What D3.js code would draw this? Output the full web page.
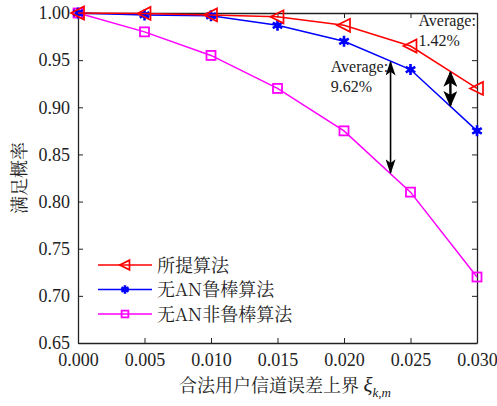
<!DOCTYPE html>
<html>
<head>
<meta charset="utf-8">
<script src="https://cdn.jsdelivr.net/npm/d3@7"></script>
<style>
  body { margin: 0; background: #fff; }
  text { font-family: "Liberation Serif", "Times New Roman", serif; fill: #222; }
  .cjk { font-family: "Noto Serif CJK SC", "Noto Sans CJK SC", serif; }
</style>
</head>
<body>
<div id="chart"></div>
<script>
(function(){

  var xValues = [0.000, 0.005, 0.010, 0.015, 0.020, 0.025, 0.030];
  var proposed = [1.000, 0.9995, 0.998, 0.996, 0.987, 0.965, 0.920];
  var robustNoAN = [1.000, 0.998, 0.997, 0.987, 0.970, 0.940, 0.875];
  var nonRobustNoAN = [1.000, 0.980, 0.955, 0.920, 0.875, 0.810, 0.720];
  var seriesNames = ["所提算法", "无AN鲁棒算法", "无AN非鲁棒算法"];
  var xTicks = [0, 0.005, 0.01, 0.015, 0.02, 0.025, 0.03];
  var yTicks = [0.65, 0.70, 0.75, 0.80, 0.85, 0.90, 0.95, 1.00];

  var width = 497, height = 406;
  var margin = {top: 13, right: 20, bottom: 63, left: 78};

  var x = d3.scaleLinear().domain([0, 0.03]).range([margin.left, width - margin.right]);
  var y = d3.scaleLinear().domain([0.65, 1.0]).range([height - margin.bottom, margin.top]);

  var svg = d3.select("#chart").append("svg")
    .attr("width", width).attr("height", height);

  var defs = svg.append("defs");
  [["a1", 10, 15], ["a2", 14, 16]].forEach(function(m){
    defs.append("marker").attr("id", m[0])
      .attr("viewBox", "0 0 10 10").attr("refX", 9).attr("refY", 5)
      .attr("markerWidth", m[2]).attr("markerHeight", m[1])
      .attr("markerUnits", "userSpaceOnUse")
      .attr("orient", "auto-start-reverse")
      .attr("preserveAspectRatio", "none")
      .append("path").attr("d", "M0,0 L10,5 L0,10 L2.5,5 Z").attr("fill", "#000");
  });

  var plotH = height - margin.bottom - margin.top;

  var gx = svg.append("g").attr("transform", "translate(0," + (height - margin.bottom) + ")")
    .call(d3.axisBottom(x).tickValues(xTicks).tickFormat(d3.format(".3f")).tickSizeInner(-5).tickSizeOuter(0).tickPadding(10));
  var gxTop = svg.append("g").attr("transform", "translate(0," + margin.top + ")")
    .call(d3.axisTop(x).tickValues(xTicks).tickFormat("").tickSizeInner(-5).tickSizeOuter(0));
  var gy = svg.append("g").attr("transform", "translate(" + margin.left + ",0)")
    .call(d3.axisLeft(y).tickValues(yTicks).tickFormat(d3.format(".2f")).tickSizeInner(-5).tickSizeOuter(0).tickPadding(8));
  var gyR = svg.append("g").attr("transform", "translate(" + (width - margin.right) + ",0)")
    .call(d3.axisRight(y).tickValues(yTicks).tickFormat("").tickSizeInner(-5).tickSizeOuter(0));

  [gx, gxTop, gy, gyR].forEach(function(g){
    g.attr("font-family", null).attr("font-size", null);
    g.select(".domain").attr("stroke", "#222").attr("stroke-width", 1.3);
    g.selectAll(".tick line").attr("stroke", "#222").attr("stroke-width", 1);
    g.selectAll(".tick text").style("font-size", "18px").attr("fill", "#222");
  });

  // axis labels
  var xl = svg.append("text").attr("x", 285).attr("y", 392)
    .attr("text-anchor", "middle").style("font-size", "18px");
  xl.append("tspan").attr("class", "cjk").text("合法用户信道误差上界 ");
  xl.append("tspan").attr("font-style", "italic").style("font-size", "21px").text("ξ");
  xl.append("tspan").attr("font-style", "italic").style("font-size", "13px").attr("dy", 5).text("k,m");

  svg.append("text").attr("class", "cjk")
    .attr("transform", "translate(26," + (margin.top + plotH / 2) + ") rotate(-90)")
    .attr("text-anchor", "middle").style("font-size", "18px").text("满足概率");

  var series = [
    {name: seriesNames[0], values: proposed, color: "#ff0000", shape: "tri"},
    {name: seriesNames[1], values: robustNoAN, color: "#0000ff", shape: "star"},
    {name: seriesNames[2], values: nonRobustNoAN, color: "#ff00ff", shape: "sq"}
  ];

  var line = d3.line().x(function(d){ return x(d[0]); }).y(function(d){ return y(d[1]); });

  function drawMarker(g, shape, color, k){
    if (shape == "tri") {
      g.append("path").attr("d", "M" + (-7 * k) + ",0 L" + (6 * k) + "," + (-6.5 * k) + " L" + (6 * k) + "," + (6.5 * k) + " Z")
        .attr("fill", "none").attr("stroke", color).attr("stroke-width", 1.7);
    } else if (shape == "star") {
      g.append("path").attr("d", d3.symbol().type(d3.symbolAsterisk).size(85 * k * k)())
        .attr("fill", "none").attr("stroke", color).attr("stroke-width", 2.6);
      g.append("circle").attr("r", 3 * k).attr("fill", color);
    } else {
      g.append("rect").attr("x", -4.5 * k).attr("y", -4.5 * k).attr("width", 9 * k).attr("height", 9 * k)
        .attr("fill", "none").attr("stroke", color).attr("stroke-width", 1.8);
    }
  }

  // draw in reverse so red sits on top
  series.slice().reverse().forEach(function(s){
    var pts = xValues.map(function(v, i){ return [v, s.values[i]]; });
    svg.append("path").datum(pts).attr("d", line)
      .attr("fill", "none").attr("stroke", s.color).attr("stroke-width", 1.5);
    pts.forEach(function(p){
      var g = svg.append("g").attr("transform", "translate(" + x(p[0]) + "," + y(p[1]) + ")");
      drawMarker(g, s.shape, s.color, 1);
    });
  });

  // annotations
  function interp(vals, xv){
    return d3.scaleLinear().domain(xValues).range(vals)(xv);
  }
  var notes = [
    {xv: 0.0235, top: robustNoAN, bottom: nonRobustNoAN, marker: "a1", label: ["Average:", "9.62%"], lx: 0.0190, ly: 0.9375},
    {xv: 0.0280, top: proposed, bottom: robustNoAN, marker: "a2", label: ["Average:", "1.42%"], lx: 0.0256, ly: 0.9865}
  ];
  notes.forEach(function(n){
    svg.append("line")
      .attr("x1", x(n.xv)).attr("x2", x(n.xv))
      .attr("y1", y(interp(n.top, n.xv)) + 1).attr("y2", y(interp(n.bottom, n.xv)) - 1)
      .attr("stroke", "#000").attr("stroke-width", n.marker == "a1" ? 1.6 : 2.4)
      .attr("marker-start", "url(#" + n.marker + ")")
      .attr("marker-end", "url(#" + n.marker + ")");
    var t = svg.append("text").attr("x", x(n.lx)).attr("y", y(n.ly)).style("font-size", "16px");
    t.append("tspan").attr("x", x(n.lx)).text(n.label[0]);
    t.append("tspan").attr("x", x(n.lx)).attr("dy", 20).text(n.label[1]);
  });

  // legend
  var legend = svg.append("g");
  series.forEach(function(s, i){
    var ly = 265 + i * 24.5;
    legend.append("line").attr("x1", 98).attr("x2", 152).attr("y1", ly).attr("y2", ly)
      .attr("stroke", s.color).attr("stroke-width", 1.5);
    var g = legend.append("g").attr("transform", "translate(125," + ly + ")");
    drawMarker(g, s.shape, s.color, 0.75);
    legend.append("text").attr("class", "cjk").attr("x", 157).attr("y", ly + 6.5)
      .style("font-size", "18px").text(s.name);
  });

})();
</script>
</body>
</html>
